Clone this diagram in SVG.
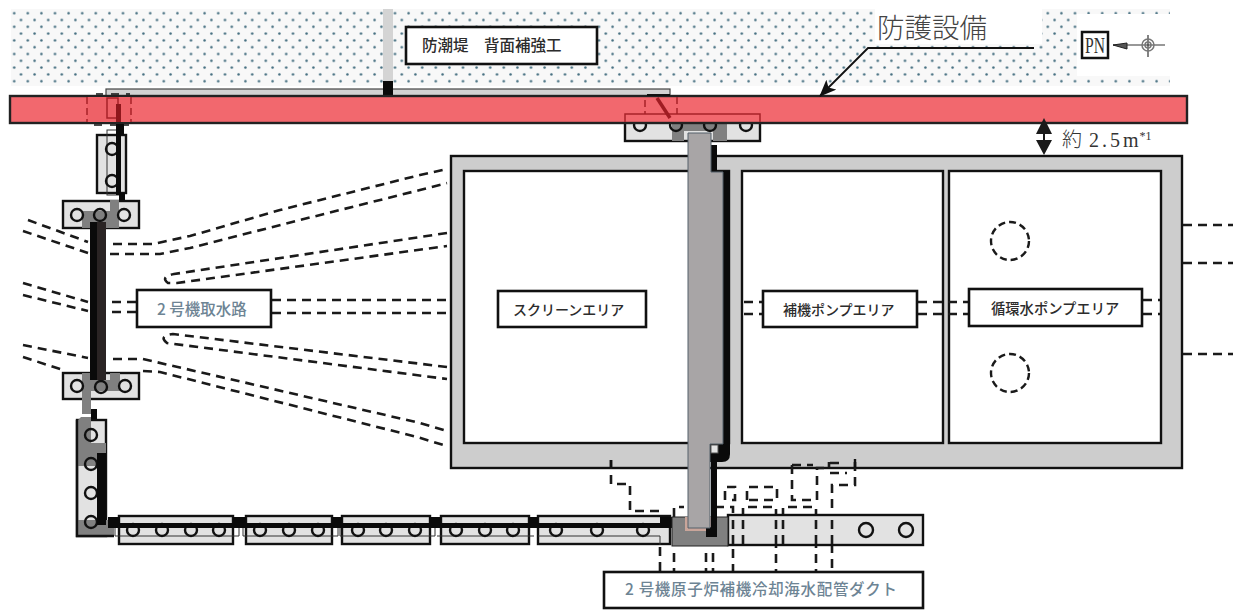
<svg xmlns="http://www.w3.org/2000/svg" width="1241" height="610" viewBox="0 0 1241 610">
<style>
.ln{fill:none;stroke:#111;stroke-width:2.4}
.pan{fill:#e2e2e2;stroke:#111;stroke-width:2.4}
.thin{fill:none;stroke:#333;stroke-width:1}
.gr{fill:#808080}
.blk{fill:#0a0a0a}
.c{fill:none;stroke:#111;stroke-width:2.4}
.d{fill:none;stroke:#1a1a1a;stroke-width:2.6;stroke-dasharray:9 6}
.ds{fill:none;stroke:#1a1a1a;stroke-width:2.4;stroke-dasharray:7 4}
.red{fill:none;stroke:#a82228;stroke-width:1.5}
.reddash{fill:none;stroke:#a82228;stroke-width:1.5;stroke-dasharray:7 4}
.box{fill:#fff;stroke:#111;stroke-width:2.6}
.t{font-family:"Noto Sans CJK JP","Noto Sans",sans-serif;font-size:14px;fill:#2c2c2c;font-weight:500}
.tb{font-family:"Noto Sans CJK JP","Noto Sans",sans-serif;font-size:15.5px;fill:#6d8494;font-weight:500}
</style>
<defs>
<pattern id="dots" width="13.6" height="13.6" patternUnits="userSpaceOnUse" x="4" y="3">
<rect width="13.6" height="13.6" fill="#f8f8f8"/>
<circle cx="3.4" cy="3.4" r="1.25" fill="#3f6a7c"/>
<circle cx="10.2" cy="10.2" r="1.25" fill="#3f6a7c"/>
</pattern>
<marker id="ah" markerWidth="18" markerHeight="14" refX="16" refY="7" orient="auto" markerUnits="userSpaceOnUse">
<path d="M0 0L17 7L0 14L4 7Z" fill="#111"/>
</marker>
</defs>
<rect width="1241" height="610" fill="#fff"/>

<g id="ground">
<rect x="11" y="9" width="1159" height="77" fill="url(#dots)"/>
<rect x="875" y="0" width="167" height="44" fill="#fff"/>
<rect x="1077" y="14" width="100" height="62" fill="#fff"/>
</g>

<g id="seawall-reinforcement">
<rect x="383" y="9" width="10" height="72" fill="#d4d4d4"/>
<rect x="106" y="89" width="564" height="7" fill="#d2d2d2" stroke="#444" stroke-width="1.2"/>
<rect x="383" y="81" width="10" height="15" class="blk"/>
</g>

<g id="top-block-lower">
<rect x="625" y="114" width="135" height="27" class="pan"/>
<rect x="672" y="123" width="12" height="18" class="gr"/>
<rect x="713" y="123" width="14" height="18" class="gr"/>
<rect x="672" y="123" width="55" height="8" class="gr"/>
<circle cx="640" cy="125" r="6" class="c"/>
<circle cx="676" cy="125" r="6" class="c"/>
<circle cx="710" cy="125" r="6" class="c"/>
<circle cx="746" cy="125" r="6" class="c"/>
</g>

<g id="protection-bar">
<rect x="10" y="96" width="1177" height="27" fill="#f2686e" stroke="#222" stroke-width="2.4"/>
<rect x="87" y="97" width="44" height="25" fill="#ee6167"/>
<path class="reddash" d="M87 97V122M131 97V122"/>
<rect x="107" y="98" width="11" height="20" class="red"/>
<rect x="116" y="104" width="5" height="18" fill="#8f171c"/>
<path d="M96 94H103M111 94H119M126 94H130M94 125H102M110 125H119M124 125H129" stroke="#111" stroke-width="1.5" fill="none"/>
<path class="red" d="M625 122V114H760V122"/>
<path class="reddash" d="M677 97V114M645 100V114"/>
<path d="M657 98L670 118" stroke="#a01c22" stroke-width="3.5" fill="none"/>
<path d="M647 95H670" stroke="#111" stroke-width="2"/>
</g>

<g id="building">
<rect x="451" y="156" width="731" height="312" fill="#cdcdcd" stroke="#111" stroke-width="2.4"/>
<rect x="464" y="171" width="265" height="272" fill="#fff" stroke="#111" stroke-width="2.4"/>
<rect x="742" y="171" width="201" height="272" fill="#fff" stroke="#111" stroke-width="2.4"/>
<rect x="949" y="171" width="212" height="272" fill="#fff" stroke="#111" stroke-width="2.4"/>
<circle cx="1010" cy="241" r="19" class="ds"/>
<circle cx="1010" cy="373" r="19" class="ds"/>
</g>

<g id="connectors">
<path class="d" d="M28 220L88 242"/>
<path class="d" d="M113 244H153L190 236L280 210L420 175L447 169"/>
<path class="d" d="M23 231L88 253"/>
<path class="d" d="M110 254H160L190 248L300 220L420 190L447 183"/>
<path class="d" d="M447 233L174 274Q160 277 168 283L177 283L447 246"/>
<path class="d" d="M23 283L88 302"/>
<path class="d" d="M23 295L88 311"/>
<path class="d" d="M112 302H137M112 312H137"/>
<path class="d" d="M272 300H447M272 313H447"/>
<path class="d" d="M23 345L88 358"/>
<path class="d" d="M113 359H143L420 423L447 431"/>
<path class="d" d="M23 357L63 370"/>
<path class="d" d="M143 371L160 372L417 437L447 446"/>
<path class="d" d="M447 367L173 334Q158 336 167 343L447 379"/>
<path class="d" d="M744 302H763M744 314H763M918 302H969M918 314H969M1143 300H1160M1143 314H1160"/>
<path class="d" d="M1183 225H1233M1183 263H1233M1183 354H1233"/>
<path class="d" d="M611 460V484H630V511H662"/>
<path class="d" d="M660 547V572M674 517V507H684M674 553V572M706 553V572M713 553V572"/>
<path class="d" d="M715 507H733V572M743 517V507H776V572M783 517V507H816V572"/>
<path class="d" d="M725 500V487H735V500H729"/>
<path class="d" d="M747 500V487H777V500H747"/>
<path class="d" d="M792 465V500H817V468H829V462M792 465H813"/>
<path class="d" d="M830 463H842M830 473H847M855 462V485H832V572"/>
<path d="M611 460V468M855 459V468" class="ln"/>
<path d="M1034 48H868L820 96" fill="none" stroke="#111" stroke-width="1.8" marker-end="url(#ah)"/>
</g>

<g id="wall-upper-left">
<rect x="97" y="135" width="29" height="58" class="pan"/>
<rect x="107" y="130" width="12" height="65" class="thin" fill="#ddd"/>
<circle cx="112" cy="149" r="6" class="c"/>
<circle cx="112" cy="181" r="6" class="c"/>
<rect x="116" y="124" width="8" height="11" class="blk"/>
<rect x="116" y="130" width="5" height="65" class="blk"/>
<rect x="119" y="193" width="6" height="11" class="blk"/>
</g>

<g id="block-a">
<rect x="63" y="201" width="76" height="27" class="pan"/>
<rect x="110" y="200" width="9" height="28" class="gr"/>
<rect x="82" y="211" width="37" height="17" class="gr"/>
<circle cx="77" cy="215" r="6" class="c"/>
<circle cx="100" cy="215" r="6" class="c"/>
<circle cx="124" cy="215" r="6" class="c"/>
</g>

<g id="block-b">
<rect x="63" y="373" width="76" height="26" class="pan"/>
<rect x="110" y="373" width="10" height="18" class="gr"/>
<rect x="82" y="380" width="38" height="11" class="gr"/>
<rect x="82" y="373" width="9" height="41" class="gr"/>
<circle cx="77" cy="386" r="6" class="c"/>
<circle cx="101" cy="387" r="6" class="c"/>
<circle cx="125" cy="386" r="6" class="c"/>
</g>

<g id="wall-left">
<rect x="90" y="222" width="7" height="158" class="blk"/>
<rect x="97" y="222" width="9" height="158" fill="#2a2424"/>
<rect x="91" y="409" width="6" height="12" class="blk"/>
</g>

<g id="wall-lower-left">
<rect x="77" y="420" width="29" height="116" class="pan"/>
<path class="gr" d="M81 417H91V443H106V466H78V420Z"/>
<rect x="78" y="520" width="36" height="16" class="gr"/>
<path d="M77 420V536H114" class="ln"/>
<circle cx="91" cy="435" r="6" class="c"/>
<circle cx="91" cy="464" r="6" class="c"/>
<circle cx="91" cy="493" r="6" class="c"/>
<circle cx="91" cy="522" r="6" class="c"/>
<rect x="97" y="453" width="9" height="72" class="blk"/>
</g>

<g id="panels">
<rect x="119" y="516" width="114" height="28" class="pan"/>
<rect x="246" y="516" width="86" height="28" class="pan"/>
<rect x="342" y="516" width="88" height="28" class="pan"/>
<rect x="441" y="516" width="88" height="28" class="pan"/>
<rect x="538" y="516" width="132" height="28" class="pan"/>
<path class="thin" d="M115 527V536H239V527M243 527V536H338V527M340 527V536H435V527M437 536H534M538 536H660V545"/>
<g>
<circle cx="133" cy="530" r="6" class="c"/><circle cx="162" cy="530" r="6" class="c"/><circle cx="191" cy="530" r="6" class="c"/><circle cx="219" cy="530" r="6" class="c"/>
<circle cx="260" cy="530" r="6" class="c"/><circle cx="289" cy="530" r="6" class="c"/><circle cx="318" cy="530" r="6" class="c"/>
<circle cx="358" cy="530" r="6" class="c"/><circle cx="386" cy="530" r="6" class="c"/><circle cx="415" cy="530" r="6" class="c"/>
<circle cx="456" cy="530" r="6" class="c"/><circle cx="485" cy="530" r="6" class="c"/><circle cx="513" cy="530" r="6" class="c"/>
<circle cx="556" cy="530" r="6" class="c"/><circle cx="597" cy="530" r="6" class="c"/><circle cx="643" cy="530" r="6" class="c"/>
</g>
<rect x="108" y="523" width="564" height="5" class="blk"/>
<rect x="108" y="517" width="12" height="7" class="blk"/>
<rect x="233" y="517" width="13" height="7" class="blk"/>
<rect x="332" y="517" width="10" height="7" class="blk"/>
<rect x="429" y="517" width="12" height="7" class="blk"/>
<rect x="529" y="517" width="9" height="7" class="blk"/>
<rect x="660" y="517" width="12" height="11" class="blk"/>
</g>

<g id="right-panel">
<rect x="728" y="515" width="195" height="30" class="pan"/>
<circle cx="866" cy="530" r="7" class="c"/>
<circle cx="906" cy="530" r="7" class="c"/>
<path class="d" d="M733 520V545M743 520V545M776 520V545M783 520V545M816 520V545M832 520V545"/>
</g>

<g id="pier">
<rect x="672" y="517" width="56" height="29" class="gr" stroke="#222" stroke-width="1"/>
<rect x="685" y="517" width="29" height="14" fill="#c9a59a"/>
<rect x="711" y="145" width="6" height="28" class="blk"/>
<rect x="723" y="171" width="7" height="275" class="blk"/>
<path d="M710 444H730V454Q730 462 722 462H710Z" class="blk"/>
<rect x="711" y="460" width="6" height="77" class="blk"/>
<rect x="706" y="527" width="11" height="10" class="blk"/>
<path d="M688 133H711V172H723V444H710V528H688Z" fill="#a8a5a6" stroke="#55606a" stroke-width="1"/>
<rect x="711" y="445" width="7" height="8" fill="#e4e4e4" stroke="#555" stroke-width="1"/>
</g>

<g id="label-seawall">
<rect x="406" y="27" width="191" height="37" class="box"/>
<text x="422" y="51" class="t" style="font-size:15.5px">防潮堤　背面補強工</text>
</g>
<g id="label-intake">
<rect x="137" y="290" width="134" height="37" class="box"/>
<text x="157" y="315" class="tb">2 号機取水路</text>
</g>
<g id="label-screen">
<rect x="498" y="291" width="148" height="36" class="box"/>
<text x="513" y="315" class="t">スクリーンエリア</text>
</g>
<g id="label-aux">
<rect x="763" y="291" width="154" height="36" class="box"/>
<text x="783" y="315" class="t">補機ポンプエリア</text>
</g>
<g id="label-circ">
<rect x="969" y="289" width="173" height="37" class="box"/>
<text x="991" y="314" class="t" style="font-size:14.3px">循環水ポンプエリア</text>
</g>
<g id="label-duct">
<rect x="604" y="572" width="319" height="36" class="box"/>
<text x="625" y="595" class="tb" textLength="272" lengthAdjust="spacing">2 号機原子炉補機冷却海水配管ダクト</text>
</g>

<g id="label-protection">
<text x="877" y="38" style="font-family:'Noto Sans CJK JP',sans-serif;font-size:27.5px;fill:#444;font-weight:300">防護設備</text>
</g>

<g id="dimension">
<path d="M1044 118L1052 134H1036ZM1044 155L1036 140H1052Z" fill="#1a1a1a"/>
<rect x="1043" y="130" width="2" height="14" fill="#1a1a1a"/>
<text x="1062" y="147" style="font-family:'Liberation Serif','Noto Sans CJK JP',serif;font-size:20px;fill:#333"><tspan style="font-family:'Noto Sans CJK JP',sans-serif;font-weight:300;font-size:20px">約</tspan><tspan dx="7" letter-spacing="3">2.5m</tspan><tspan dy="-7" dx="-2" font-size="12">*1</tspan></text>
</g>

<g id="north">
<rect x="1082" y="32" width="26" height="26" fill="#fff" stroke="#111" stroke-width="2.5"/>
<text x="1085" y="53" textLength="20" lengthAdjust="spacingAndGlyphs" style="font-family:'Liberation Serif',serif;font-size:24px;fill:#333">PN</text>
<path d="M1113 45H1165M1148 35V57" stroke="#333" stroke-width="1.2" fill="none"/>
<path d="M1113 45L1127 49V43Z" fill="#555" stroke="#222" stroke-width="1"/>
<circle cx="1148" cy="45" r="6" fill="none" stroke="#777" stroke-width="1.5"/>
<circle cx="1148" cy="45" r="3" fill="none" stroke="#777" stroke-width="1.5"/>
</g>
</svg>
